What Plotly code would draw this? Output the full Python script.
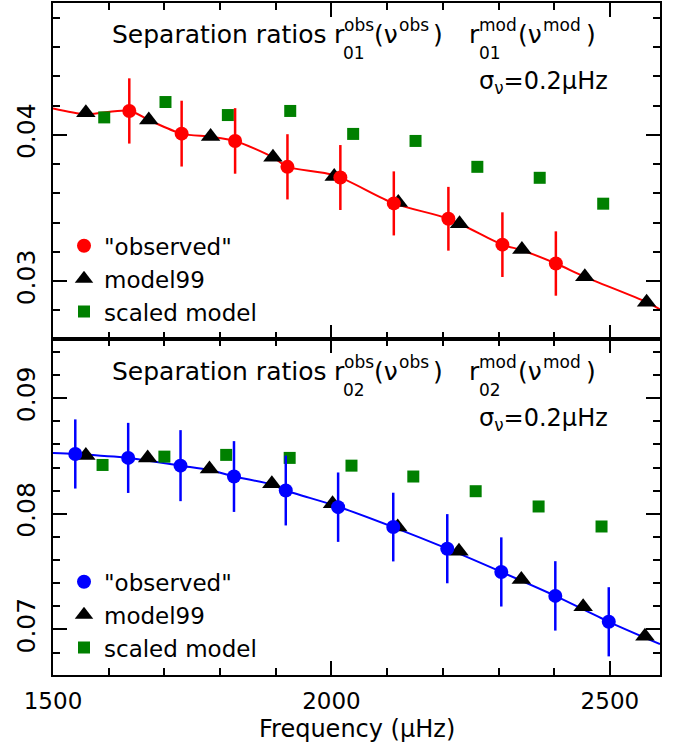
import plotly.graph_objects as go
from plotly.subplots import make_subplots

# ---------------- data ----------------
# top panel: r01
obs_f01 = [1637, 1731, 1827, 1921, 2016, 2112, 2210, 2307, 2403]
obs_r01 = [0.04164, 0.04009, 0.03959, 0.03782, 0.03709, 0.03532, 0.03427, 0.03250, 0.03121]
obs_e01 = [0.00223, 0.00225, 0.00224, 0.00223, 0.00222, 0.00219, 0.00218, 0.00221, 0.00220]
mod_f01 = [1559, 1672, 1783, 1895, 2005, 2120, 2230, 2342, 2455, 2566]
mod_r01 = [0.04152, 0.04102, 0.03989, 0.03847, 0.03716, 0.03539, 0.03393, 0.03216, 0.03030, 0.02857]
scl_f01 = [1592, 1702, 1814, 1926, 2039, 2151, 2262, 2374, 2488]
scl_r01 = [0.04120, 0.04225, 0.04136, 0.04164, 0.04007, 0.03959, 0.03782, 0.03707, 0.03530]
crv_f01 = [1500, 1559, 1637, 1672, 1731, 1783, 1827, 1895, 1921, 2005, 2112, 2210, 2307, 2342, 2403, 2455, 2566, 2590]
crv_r01 = [0.04181, 0.04142, 0.04166, 0.04102, 0.04009, 0.03988, 0.03959, 0.03847, 0.03782, 0.03725,
           0.03532, 0.03427, 0.03250, 0.03212, 0.03121, 0.03030, 0.02857, 0.02807]

# bottom panel: r02
obs_f02 = [1540, 1635, 1729, 1825, 1918, 2012, 2111, 2208, 2305, 2402, 2498]
obs_r02 = [0.08517, 0.08483, 0.08416, 0.08322, 0.08201, 0.08057, 0.07885, 0.07698, 0.07497, 0.07290, 0.07066]
obs_e02 = [0.00299, 0.00303, 0.00307, 0.00306, 0.00302, 0.00300, 0.00297, 0.00299, 0.00299, 0.00300, 0.00299]
mod_f02 = [1559, 1670, 1781, 1893, 2002, 2119, 2229, 2341, 2452, 2563]
mod_r02 = [0.08503, 0.08483, 0.08388, 0.08259, 0.08086, 0.07885, 0.07675, 0.07431, 0.07195, 0.06942]
scl_f02 = [1589, 1700, 1811, 1925, 2036, 2147, 2259, 2372, 2485]
scl_r02 = [0.08422, 0.08494, 0.08509, 0.08483, 0.08416, 0.08322, 0.08195, 0.08063, 0.07890]
crv_f02 = [1500, 1540, 1635, 1729, 1781, 1825, 1893, 1918, 2010, 2111, 2208, 2305, 2402, 2498, 2590]
crv_r02 = [0.08526, 0.08517, 0.08483, 0.08416, 0.08379, 0.08322, 0.08253, 0.08201, 0.08065,
           0.07885, 0.07698, 0.07497, 0.07290, 0.07066, 0.06873]

x_range = [1500, 2590]
y_range01 = [0.02605, 0.04902]
y_range02 = [0.06606, 0.09511]
x_ticks = [1500, 2000, 2500]
y_ticks01 = [0.03, 0.04]
y_ticks02 = [0.07, 0.08, 0.09]

legend_labels = ['"observed"', 'model99', 'scaled model']
x_title = "Frequency (μHz)"
sigma_text = "σ<sub>ν</sub>=0.2μHz"

# ---------------- styling ----------------
FONT = "DejaVu Sans"
W, H = 686, 753
L, R, T, B = 53, 26, 1, 78
RED, BLUE, GREEN, BLACK = "#ff0000", "#0000ff", "#008000", "#000000"

fig = make_subplots(rows=2, cols=1, shared_xaxes=True, vertical_spacing=0)


def add_panel(row, cf, cr, of, orr, oe, mf, mr, sf, sr, color, legend):
    fig.add_trace(go.Scatter(x=cf, y=cr, mode="lines", line=dict(color=color, width=2, shape="spline", smoothing=0.8),
                             showlegend=False, hoverinfo="skip"), row=row, col=1)
    fig.add_trace(go.Scatter(x=sf, y=sr, mode="markers", name=legend_labels[2], legend=legend, legendrank=3,
                             marker=dict(symbol="square", size=12, color=GREEN)), row=row, col=1)
    fig.add_trace(go.Scatter(x=mf, y=mr, mode="markers", name=legend_labels[1], legend=legend, legendrank=2,
                             marker=dict(symbol="triangle-up", size=17, color=BLACK)), row=row, col=1)
    fig.add_trace(go.Scatter(x=of, y=orr, mode="markers", name=legend_labels[0], legend=legend, legendrank=1,
                             marker=dict(symbol="circle", size=14, color=color),
                             error_y=dict(type="data", array=oe, visible=True, color=color, thickness=2.5, width=0)),
                  row=row, col=1)


add_panel(1, crv_f01, crv_r01, obs_f01, obs_r01, obs_e01, mod_f01, mod_r01, scl_f01, scl_r01, RED, "legend")
add_panel(2, crv_f02, crv_r02, obs_f02, obs_r02, obs_e02, mod_f02, mod_r02, scl_f02, scl_r02, BLUE, "legend2")

axis_common = dict(showline=True, linewidth=2, linecolor=BLACK, mirror="ticks", ticks="inside",
                   ticklen=14, tickwidth=1.5, tickcolor=BLACK, showgrid=False, zeroline=False)

fig.update_xaxes(range=x_range, tickvals=x_ticks, tickfont=dict(family=FONT, size=23, color=BLACK),
                 minor=dict(dtick=100, ticklen=7, tickwidth=1.5, tickcolor=BLACK, ticks="inside", showgrid=False),
                 **axis_common)
fig.update_xaxes(showticklabels=False, row=1, col=1)
fig.update_xaxes(ticklabelstandoff=4, row=2, col=1)
ytf = dict(family=FONT, size=25, color=BLACK)
fig.update_yaxes(range=y_range01, tickvals=y_ticks01, tickformat=".2f", tickangle=-90, tickfont=ytf,
                 ticklabelstandoff=6,
                 minor=dict(dtick=0.002, tick0=0.03, ticklen=7, tickwidth=1.5, tickcolor=BLACK, ticks="inside",
                            showgrid=False), **axis_common, row=1, col=1)
fig.update_yaxes(range=y_range02, tickvals=y_ticks02, tickformat=".2f", tickangle=-90, tickfont=ytf,
                 ticklabelstandoff=6,
                 minor=dict(dtick=0.002, tick0=0.07, ticklen=7, tickwidth=1.5, tickcolor=BLACK, ticks="inside",
                            showgrid=False), **axis_common, row=2, col=1)


def px2paper(px, py):
    return (px - L) / (W - L - R), (H - B - py) / (H - B - T)


annotations = []


def add_text(text, px, py, size, xanchor="left"):
    x, y = px2paper(px, py)
    annotations.append(dict(text=text, x=x, y=y, xref="paper", yref="paper", xanchor=xanchor, yanchor="middle",
                            showarrow=False, font=dict(family=FONT, size=size, color=BLACK)))


for dy, sub in ((0, "01"), (338, "02")):
    M, S = 25, 17
    add_text("Separation ratios", 110, 33 + dy, M)
    add_text("r", 332, 33 + dy, M)
    add_text("obs", 342, 23 + dy, S)
    add_text(sub, 341, 51 + dy, S)
    add_text("(ν", 372, 33 + dy, M)
    add_text("obs", 397, 23 + dy, S)
    add_text(")", 431, 33 + dy, M)
    add_text("r", 467, 33 + dy, M)
    add_text("mod", 477, 23 + dy, S)
    add_text(sub, 477, 51 + dy, S)
    add_text("(ν", 516, 33 + dy, M)
    add_text("mod", 541, 23 + dy, S)
    add_text(")", 584, 33 + dy, M)
    add_text(sigma_text, 543, 81 + dy, 24, xanchor="center")

add_text(x_title, (L + W - R) / 2, 729, 24, xanchor="center")

legend_style = dict(font=dict(family=FONT, size=23, color=BLACK), bgcolor="rgba(0,0,0,0)",
                    xanchor="left", yanchor="top", tracegroupgap=0, itemwidth=30)
lx, ly1 = px2paper(64, 223)
_, ly2 = px2paper(64, 560)

fig.update_layout(
    width=W, height=H, margin=dict(l=L, r=R, t=T, b=B),
    paper_bgcolor="white", plot_bgcolor="white",
    font=dict(family=FONT, color=BLACK),
    legend=dict(x=lx, y=ly1, **legend_style),
    legend2=dict(x=lx, y=ly2, **legend_style),
    annotations=annotations,
)

fig.write_html("out.html")
